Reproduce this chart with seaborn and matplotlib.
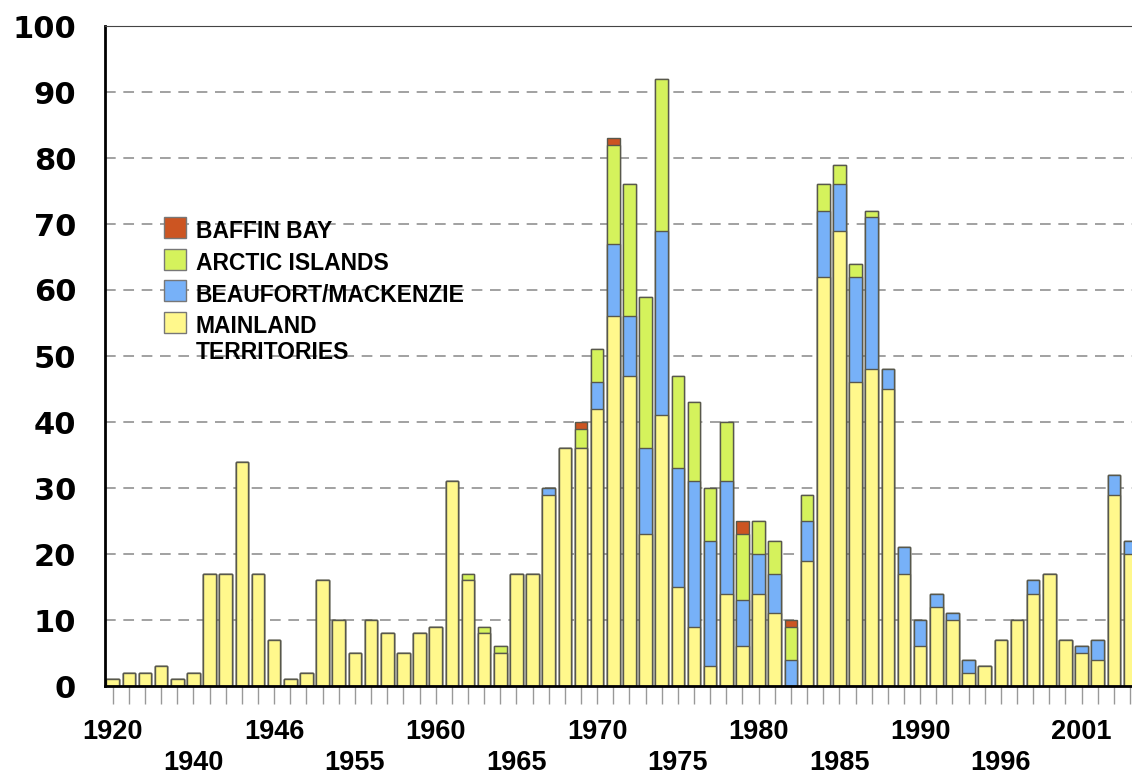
import numpy as np
import pandas as pd
import matplotlib
matplotlib.use('Agg')
import matplotlib.pyplot as plt
import matplotlib.transforms as mtransforms
from matplotlib.patches import Rectangle
import seaborn as sns

# wells per bar (64 bars)
mainland = [1, 2, 2, 3, 1, 2, 17, 17, 34, 17, 7, 1, 2, 16, 10, 5,
            10, 8, 5, 8, 9, 31, 16, 8, 5, 17, 17, 29, 36, 36, 42, 56,
            47, 23, 41, 15, 9, 3, 14, 6, 14, 11, 0, 19, 62, 69, 46, 48,
            45, 17, 6, 12, 10, 2, 3, 7, 10, 14, 17, 7, 5, 4, 29, 20]
beaufort = [0, 0, 0, 0, 0, 0, 0, 0, 0, 0, 0, 0, 0, 0, 0, 0,
            0, 0, 0, 0, 0, 0, 0, 0, 0, 0, 0, 1, 0, 0, 4, 11,
            9, 13, 28, 18, 22, 19, 17, 7, 6, 6, 4, 6, 10, 7, 16, 23,
            3, 4, 4, 2, 1, 2, 0, 0, 0, 2, 0, 0, 1, 3, 3, 2]
arctic = [0, 0, 0, 0, 0, 0, 0, 0, 0, 0, 0, 0, 0, 0, 0, 0,
          0, 0, 0, 0, 0, 0, 1, 1, 1, 0, 0, 0, 0, 3, 5, 15,
          20, 23, 23, 14, 12, 8, 9, 10, 5, 5, 5, 4, 4, 3, 2, 1,
          0, 0, 0, 0, 0, 0, 0, 0, 0, 0, 0, 0, 0, 0, 0, 0]
baffin = [0, 0, 0, 0, 0, 0, 0, 0, 0, 0, 0, 0, 0, 0, 0, 0,
          0, 0, 0, 0, 0, 0, 0, 0, 0, 0, 0, 0, 0, 1, 0, 1,
          0, 0, 0, 0, 0, 0, 0, 2, 0, 0, 1, 0, 0, 0, 0, 0,
          0, 0, 0, 0, 0, 0, 0, 0, 0, 0, 0, 0, 0, 0, 0, 0]

tick_pos = [0, 5, 10, 15, 20, 25, 30, 35, 40, 45, 50, 55, 60]
tick_labels = ['1920', '1940', '1946', '1955', '1960', '1965', '1970',
               '1975', '1980', '1985', '1990', '1996', '2001']

names = ['BAFFIN BAY', 'ARCTIC ISLANDS', 'BEAUFORT/MACKENZIE', 'MAINLAND\nTERRITORIES']
colors = ['#CC5522', '#D5F25C', '#77B1F8', '#FFF88C']

sns.set_theme(style='white')
plt.rcParams['font.family'] = ['Liberation Sans', 'DejaVu Sans']
plt.rcParams['text.color'] = 'black'

W, H = 1132, 776

df = pd.DataFrame({'bar': range(len(mainland)), 'mainland': mainland,
                   'beaufort': beaufort, 'arctic': arctic, 'baffin': baffin})
# cumulative tops, drawn from the top layer down so each one covers the next
df['top_mainland'] = df['mainland']
df['top_beaufort'] = df['top_mainland'] + df['beaufort']
df['top_arctic'] = df['top_beaufort'] + df['arctic']
df['top_baffin'] = df['top_arctic'] + df['baffin']

fig = plt.figure(figsize=(W / 100, H / 100), dpi=100)
ax = fig.add_axes([105.3 / W, 90 / H, 1 - 105.3 / W, 660 / H])

order = list(df['bar'])
for col, c in zip(['top_baffin', 'top_arctic', 'top_beaufort', 'top_mainland'], colors):
    sns.barplot(data=df, x='bar', y=col, order=order, color=c, saturation=1,
                width=0.78, edgecolor='#58584c', linewidth=1.0, errorbar=None, ax=ax)

ax.set_axisbelow(True)
ax.set_xlim(-0.458, 63.12)
ax.set_ylim(0, 100)
ax.set_xlabel('')
ax.set_ylabel('')

# y axis
ax.set_yticks(range(0, 101, 10))
ax.set_yticklabels([str(v) for v in range(0, 101, 10)])
for lbl in ax.get_yticklabels():
    lbl.set_fontfamily('DejaVu Sans')
    lbl.set_fontweight('bold')
    lbl.set_fontsize(22)
    lbl.set_color('black')
ax.tick_params(axis='y', length=0, pad=21)
ax.yaxis.grid(True, linestyle=(0, (7, 5)), color='#888888', linewidth=1.1)
ax.yaxis.get_gridlines()[-1].set_visible(False)
ax.yaxis.get_gridlines()[0].set_visible(False)

# x axis: a tick under every bar, labels on two rows
ax.set_xticks(range(len(mainland)))
ax.set_xticklabels([])
ax.tick_params(axis='x', length=13, width=1, color='#999999', direction='out', bottom=True)
trans = mtransforms.blended_transform_factory(ax.transData, ax.transAxes)
for i, (p, t) in enumerate(zip(tick_pos, tick_labels)):
    yy = -0.0808 if i % 2 == 0 else -0.128
    ax.text(p, yy, t, transform=trans, ha='center', va='baseline',
            fontsize=19.5, fontweight='bold', color='black', clip_on=False)

for s in ['left', 'bottom']:
    ax.spines[s].set_color('black')
    ax.spines[s].set_linewidth(2)
ax.spines['right'].set_visible(False)
ax.spines['top'].set_color('#444444')
ax.spines['top'].set_linewidth(0.8)

# legend, laid out by hand so the square sits next to the first line
box_tops = [217, 248.5, 280, 311.5]
baselines = [238.3, 270, 301.7, 332.7]
for name, c, bt, bl in zip(names, colors, box_tops, baselines):
    fig.add_artist(Rectangle((164 / W, 1 - (bt + 21) / H), 21.5 / W, 21 / H,
                             transform=fig.transFigure, facecolor=c,
                             edgecolor='#777777', linewidth=1))
    for k, line in enumerate(name.split('\n')):
        fig.text(195.5 / W, 1 - (bl + 26 * k) / H, line, ha='left', va='baseline',
                 fontsize=16.5, fontweight='bold', color='black',
                 family='Liberation Sans')

fig.savefig('out.png', dpi=100)
